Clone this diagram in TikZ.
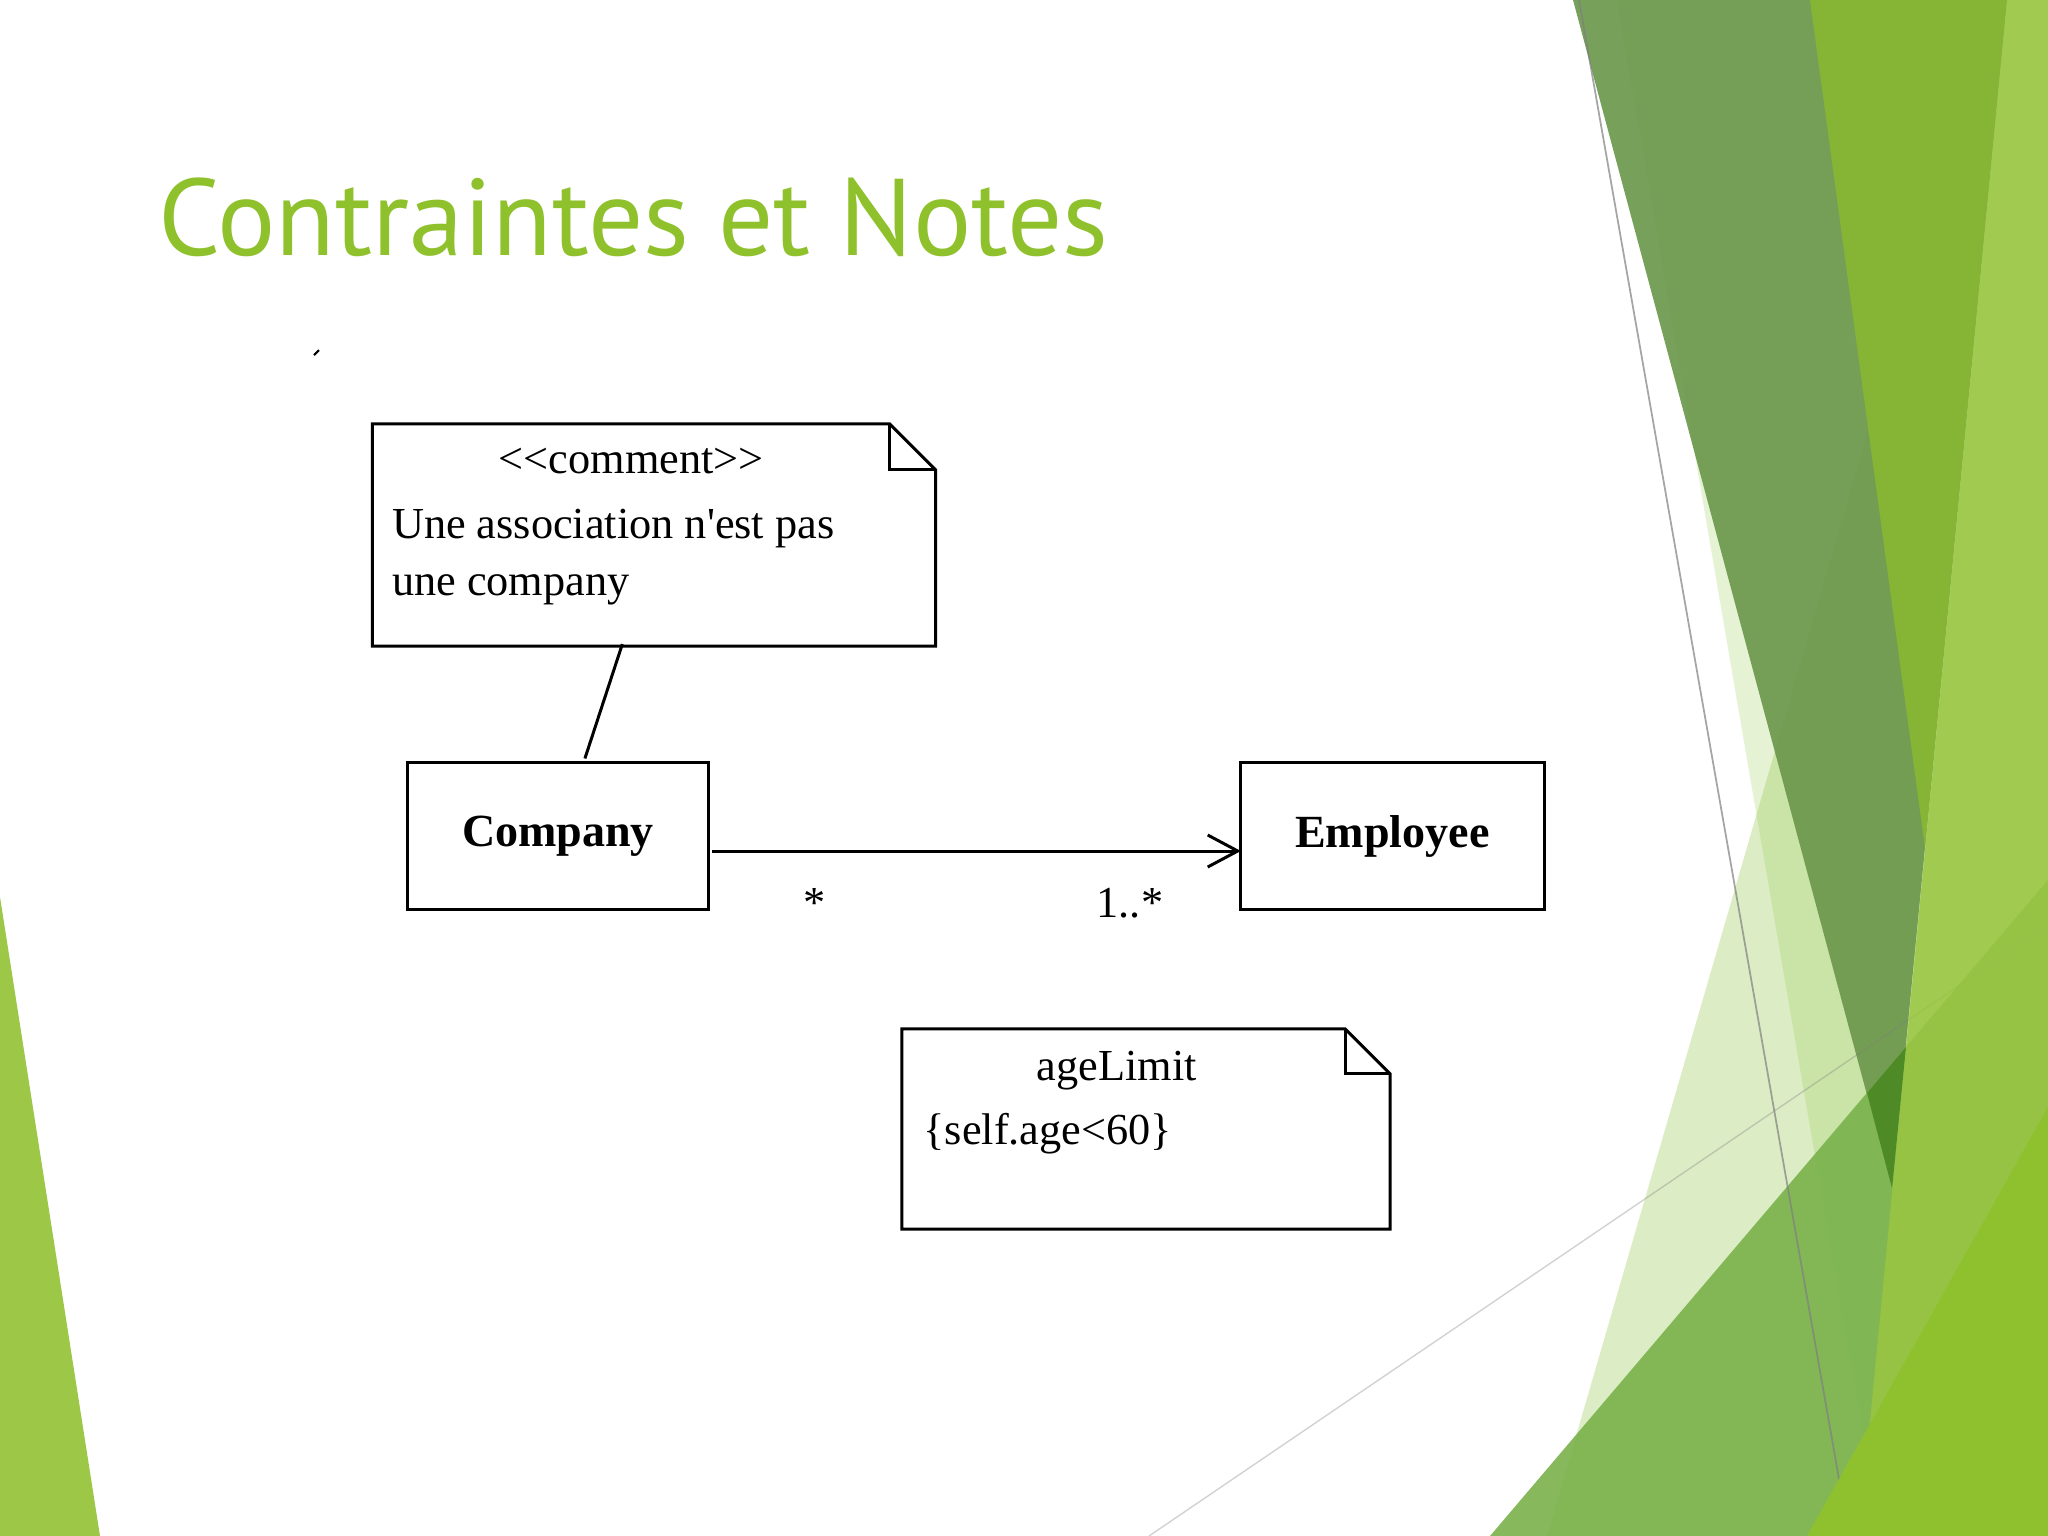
\documentclass[tikz,border=0pt]{standalone}
\usepackage{fontspec}
\newfontfamily\umlfont{Liberation Serif}
\newfontfamily\titlefont{PT Sans}
\usetikzlibrary{calc, arrows.meta}
\definecolor{titlegreen}{RGB}{143,193,44}
\definecolor{leftgreen}{RGB}{157,200,71}
\definecolor{palegreen}{RGB}{141,198,63}
\definecolor{olivegreen}{RGB}{108,152,76}
\definecolor{brightgreen}{RGB}{134,181,54}
\definecolor{lightgreen}{RGB}{154,198,65}
\definecolor{bandgreen}{RGB}{122,178,75}
\definecolor{darkgreen}{RGB}{78,138,38}
\definecolor{yellowgreen}{RGB}{143,193,47}
\tikzstyle{title} = [anchor=base west, inner sep=0pt, text=titlegreen, font=\titlefont\fontsize{31}{36}\selectfont]
\tikzstyle{classbox} = [rectangle, draw=black, line width=0.85pt, minimum width=3cm, minimum height=1.47cm, inner sep=0pt, outer sep=0pt, font=\umlfont\fontsize{13.1}{15}\selectfont\bfseries]
\tikzstyle{notebox} = [rectangle, inner sep=0pt, outer sep=0pt]
\tikzstyle{notetext} = [inner sep=0pt, font=\umlfont\fontsize{12.6}{15}\selectfont]
\tikzstyle{noteline} = [draw=black, line width=0.85pt, line join=miter]
\tikzstyle{arrow} = [-{Straight Barb[length=3mm, width=3.2mm]}, line width=0.85pt]

\begin{document}
\begin{tikzpicture}[x=0.01cm, y=-0.01cm, node distance=0.2cm]
\useasboundingbox (0,0) rectangle (2048,1536);
\fill[white] (0,0) rectangle (2048,1536);
%décor du fond
\fill[leftgreen] (0,897) -- (100,1536) -- (0,1536) -- cycle;
\fill[palegreen, opacity=0.3] (1547,1536) -- (1993,0) -- (2048,0) -- (2048,1536) -- cycle;
\fill[palegreen, opacity=0.22] (1617,0) -- (1880,1536) -- (2048,1536) -- (2048,0) -- cycle;
\fill[olivegreen, opacity=0.92] (1573,0) -- (2007,0) -- (1892,1188) -- cycle;
\fill[brightgreen] (1810,0) -- (2007,0) -- (1925,848) -- cycle;
\fill[bandgreen, opacity=0.9] (1490,1536) -- (2048,880) -- (2048,1536) -- cycle;
\fill[darkgreen] (1867,1093) -- (1906,1047) -- (1892,1188) -- cycle;
\draw[gray, opacity=0.7, line width=0.5pt] (1579,0) -- (1849,1536);
\draw[gray, opacity=0.35, line width=0.4pt] (1149,1536) -- (2048,925);
\fill[lightgreen, opacity=0.85] (2007,0) -- (2048,0) -- (2048,1536) -- (1859,1536) -- cycle;
\fill[yellowgreen] (1807,1536) -- (2048,1107) -- (2048,1536) -- cycle;

%titre
\node[title] (ttl) at (158,255) {Contraintes et Notes};
\draw[line width=0.6pt] (314,355) -- (319,350);

%classes et notes
\node[classbox](company) at (558,836){Company};
\node[classbox, right of = company, xshift = 8.14cm, minimum width = 3.03cm](employee){Employee};
\node[notebox, minimum width = 5.63cm, minimum height = 2.22cm](cmt) at (654,535){};
\node[notebox, minimum width = 4.88cm, minimum height = 2cm](lim) at (1146,1129){};

%textes des notes
\node[notetext, anchor=base] (cmthead) at ($(cmt.north west)+(259,50)$) {<<comment>>};
\node[notetext, anchor=base west] (cmtl1) at ($(cmt.north west)+(19,115)$) {Une association n'est pas};
\node[notetext, anchor=base west] (cmtl2) at ($(cmt.north west)+(19,172)$) {une company};
\node[notetext, anchor=base] (limhead) at ($(lim.north west)+(215,52)$) {ageLimit};
\node[notetext, anchor=base west] (limbody) at ($(lim.north west)+(21,116)$) {\{self.age<60\}};

%contours des notes
\draw[noteline] (cmt.north west) -- ($(cmt.north east)+(-46,0)$) -- ($(cmt.north east)+(0,46)$) -- (cmt.south east) -- (cmt.south west) -- cycle;
\draw[noteline] ($(cmt.north east)+(-46,0)$) |- ($(cmt.north east)+(0,46)$);
\draw[noteline] (lim.north west) -- ($(lim.north east)+(-45,0)$) -- ($(lim.north east)+(0,45)$) -- (lim.south east) -- (lim.south west) -- cycle;
\draw[noteline] ($(lim.north east)+(-45,0)$) |- ($(lim.north east)+(0,45)$);

%liens
\draw[line width=0.85pt] ($(cmt.south west)+(250,-2)$) -- ($(company.north west)+(177,-4)$);
\draw [arrow] ($(company.east)+(4,15)$) -- ($(employee.west)+(0,15)$);
\node[notetext, anchor=base] (multa) at ($(company.south east)+(106,8)$) {*};
\node[notetext, anchor=base east] (multb) at ($(employee.south west)+(-77,8)$) {1..*};
\end{tikzpicture}
\end{document}
